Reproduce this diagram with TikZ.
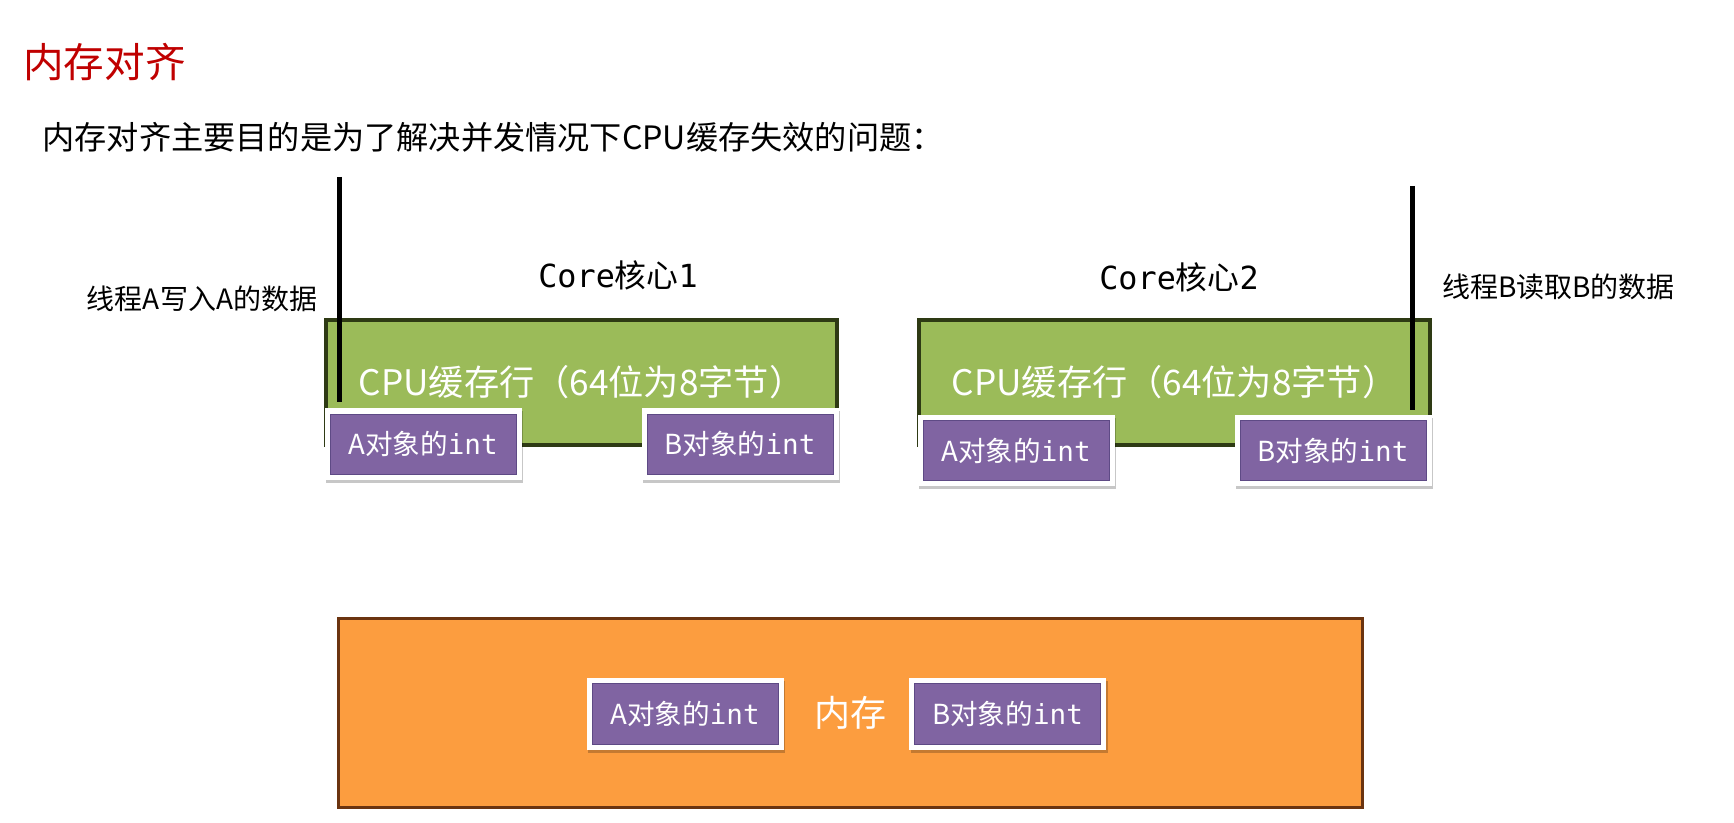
\documentclass[tikz,border=0pt]{standalone}
\usepackage{fontspec}
\setmainfont{Noto Sans CJK SC}
\newfontfamily\mono{DejaVu Sans Mono}
\usepackage{tikz}
\definecolor{titlered}{HTML}{C00000}
\definecolor{cachegreen}{HTML}{9BBB59}
\definecolor{cacheedge}{HTML}{2E3A14}
\definecolor{memorange}{HTML}{FC9D3F}
\definecolor{memedge}{HTML}{6B3410}
\definecolor{intpurple}{HTML}{8064A2}
\definecolor{intedge}{HTML}{5E4A85}
\newcommand\fsz[1]{\fontsize{#1}{#1}\selectfont}

\begin{document}
\begin{tikzpicture}[x=0.5pt,y=-0.5pt,
	txt/.style={inner sep=0pt,text=black},
	cache/.style={draw=cacheedge,line width=1.6pt,fill=cachegreen,minimum width=255.5pt,minimum height=62.5pt,text=white,font=\fsz{17.6},inner sep=0pt},
	mem/.style={draw=memedge,line width=1.5pt,fill=memorange,minimum width=512pt,minimum height=94.5pt,text=white,font=\fsz{18},inner sep=0pt},
	intbox/.style={fill=intpurple,draw=intedge,line width=0.4pt,minimum width=93pt,minimum height=30pt,text=white,font=\fsz{13.8},inner sep=0pt,
		preaction={draw=black,opacity=0.22,line width=5.5pt,transform canvas={xshift=0.8pt,yshift=-1.5pt}},
		preaction={draw=white,line width=5.5pt}},
	thread/.style={line width=2.5pt,shorten >=6pt}]
	\useasboundingbox[fill=white] (0,0) rectangle (1734,823);
	\node[txt,anchor=west,text=titlered,font=\fsz{20.3}] (title) at (23,62) {内存对齐};
	\node[txt,anchor=west,font=\fsz{16.1}] (intro) at (42,137) {内存对齐主要目的是为了解决并发情况下CPU缓存失效的问题：};
	\node[cache] (cache1) at (581.5,382.5) {CPU缓存行（64位为8字节）};
	\node[cache] (cache2) at (1174.5,382.5) {CPU缓存行（64位为8字节）};
	\node[txt,font=\fsz{15.9}] (core1) at (618,275) {{\mono Core}核心{\mono 1}};
	\node[txt,font=\fsz{15.9}] (core2) at (1179,277) {{\mono Core}核心{\mono 2}};
	\node[txt,font=\fsz{14}] (lblA) at (202,299) {线程A写入A的数据};
	\node[txt,font=\fsz{14}] (lblB) at (1558.5,287) {线程B读取B的数据};
	\coordinate (tA) at (339,177);
	\coordinate (tB) at (1412,186);
	\node[intbox] (a1) at (423,444) {A对象的{\mono int}};
	\node[intbox] (b1) at (740,444) {B对象的{\mono int}};
	\node[intbox] (a2) at (1016,450.5) {A对象的{\mono int}};
	\node[intbox] (b2) at (1333,450.5) {B对象的{\mono int}};
	\draw[thread] (tA) -- (tA |- a1.north);
	\draw[thread,shorten >=5pt] (tB) -- (tB |- b2.north);
	\node[mem] (mem) at (850,712.5) {内存};
	\node[intbox,minimum height=30.5pt] (a3) at (685,713.5) {A对象的{\mono int}};
	\node[intbox,minimum height=30.5pt] (b3) at (1007.5,713.5) {B对象的{\mono int}};
\end{tikzpicture}
\end{document}
